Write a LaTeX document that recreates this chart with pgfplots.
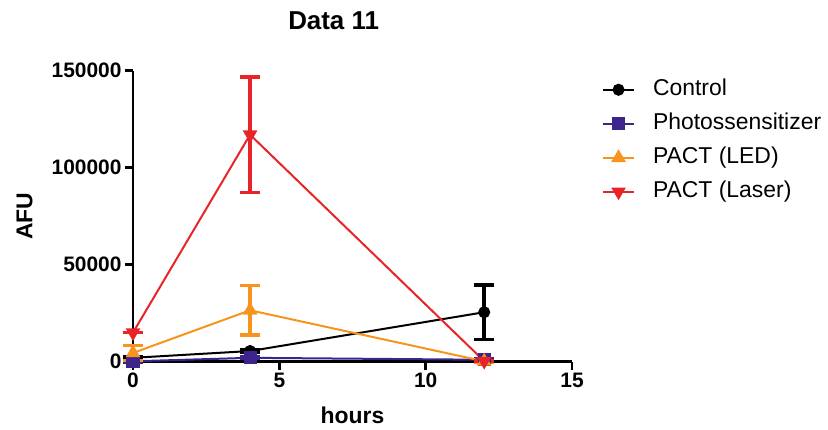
\documentclass[border=0pt]{standalone}
\usepackage{fontspec}
\setmainfont{Liberation Sans}
\usepackage{pgfplots}
\pgfplotsset{compat=1.18}
\definecolor{ctrl}{RGB}{0,0,0}
\definecolor{psens}{RGB}{60,36,140}
\definecolor{led}{RGB}{247,148,30}
\definecolor{laser}{RGB}{232,36,40}
\tikzset{
  ser/.style={line width=2bp, mark size=5bp, mark options={solid}},
}
\pgfplotsset{
  errs/.style={error bars/.cd, y dir=both, y explicit,
    error bar style={line width=3.5bp},
    error mark options={rotate=90, mark size=10bp, line width=3.5bp}},
}
\begin{document}
\begin{tikzpicture}
\useasboundingbox (0,0) rectangle (828bp,430bp);
\begin{axis}[
  at={(133bp,68.3bp)}, anchor=south west,
  scale only axis, width=439bp, height=291bp,
  xmin=0, xmax=15, ymin=0, ymax=150000,
  xtick={0,5,10,15}, ytick={0,50000,100000,150000},
  scaled y ticks=false,
  yticklabel style={/pgf/number format/fixed, /pgf/number format/set thousands separator={}},
  /pgf/number format/assume math mode=true,
  axis x line=bottom, axis y line=left,
  axis line style={line width=2.5bp, -},
  tick style={line width=2.5bp, black},
  major tick length=8bp, tick align=outside,
  ticklabel style={font=\fontsize{21}{25}\selectfont\bfseries},
  xlabel={hours}, ylabel={AFU},
  label style={font=\fontsize{23}{27}\selectfont\bfseries},
  xlabel style={at={(axis description cs:0.5,-0.183)}, anchor=center},
  ylabel style={at={(axis description cs:-0.247,0.5)}, anchor=center, rotate=0},
  title={Data 11},
  title style={font=\fontsize{26}{30}\selectfont\bfseries, at={(axis description cs:0.457,1.152)}, anchor=center},
  clip=false,
  legend style={at={(axis description cs:1.068,0.973)}, anchor=north west, draw=none, fill=none,
    font=\fontsize{23}{27}\selectfont, row sep=12bp, inner sep=0pt,
    nodes={text height=17bp, text depth=5bp, inner xsep=0pt, inner ysep=0pt},
    /tikz/every odd column/.append style={column sep=18bp}},
  legend cell align=left,
  legend image code/.code={\draw[mark repeat=2,mark phase=2] plot coordinates {(0bp,0bp) (15.5bp,0bp) (31bp,0bp)};},
]
\addplot[ser, ctrl, mark=*, errs] coordinates {(0,2000) +- (0,500) (4,5500) +- (0,800) (12,25500) +- (0,14000)};
\addlegendentry{Control}
\addplot[ser, psens, mark=square*, mark size=5.5bp, errs] coordinates {(0,200) +- (0,300) (4,2000) +- (0,400) (12,1000) +- (0,300)};
\addlegendentry{Photossensitizer}
\addplot[ser, led, mark=triangle*, mark size=6.5bp, errs] coordinates {(0,4500) +- (0,3800) (4,26500) +- (0,12700) (12,200) +- (0,300)};
\addlegendentry{PACT (LED)}
\addplot[ser, laser, mark=triangle*, mark size=6.5bp, mark options={rotate=180}, errs] coordinates {(0,15000) +- (0,0) (4,117000) +- (0,29700) (12,300) +- (0,300)};
\addlegendentry{PACT (Laser)}
\end{axis}
\end{tikzpicture}
\end{document}
